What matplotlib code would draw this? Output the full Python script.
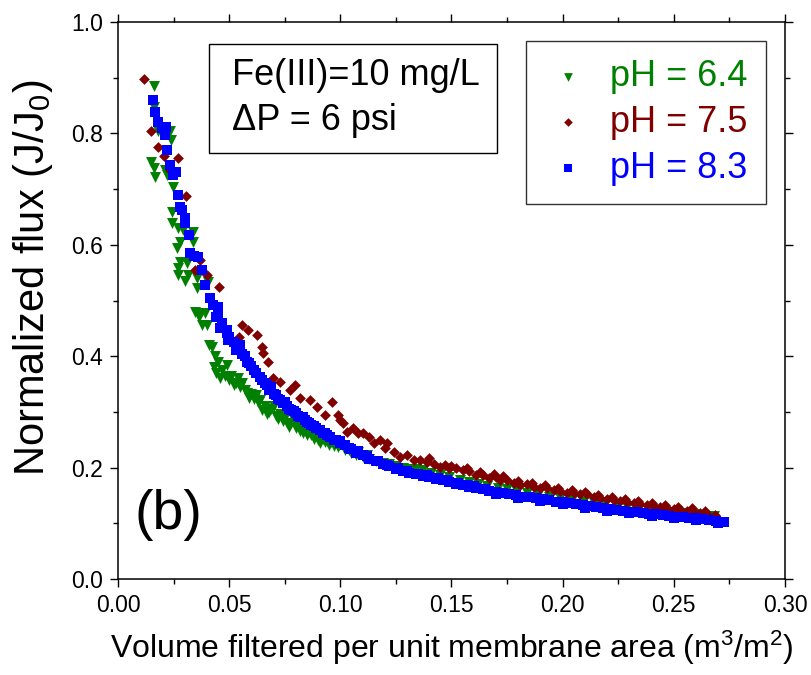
import matplotlib
matplotlib.use("Agg")
import matplotlib.pyplot as plt
from matplotlib.patches import Rectangle
from matplotlib.ticker import MultipleLocator, FormatStrFormatter

plt.rcParams['font.family'] = ['Liberation Sans', 'DejaVu Sans']
plt.rcParams['mathtext.fontset'] = 'custom'
plt.rcParams['mathtext.rm'] = 'Liberation Sans'
plt.rcParams['mathtext.default'] = 'regular'

# pH 6.4 (green triangles)
x_ph64 = [0.0162, 0.016, 0.018, 0.0234, 0.0238, 0.0148, 0.0162, 0.0166, 0.0211, 0.022,
          0.0247, 0.0243, 0.0243, 0.027, 0.0292, 0.0337, 0.0279, 0.0337, 0.0265, 0.0279,
          0.031, 0.027, 0.027, 0.0315, 0.0355, 0.0355, 0.0405, 0.030, 0.0346, 0.037,
          0.039, 0.0365, 0.040, 0.038, 0.0423, 0.041, 0.043, 0.0436, 0.045, 0.047,
          0.049, 0.048, 0.050, 0.051, 0.053, 0.055, 0.054, 0.057, 0.058, 0.060,
          0.061, 0.063, 0.064, 0.065, 0.066, 0.068, 0.069, 0.071, 0.072, 0.074,
          0.075, 0.077, 0.078, 0.080, 0.082, 0.083, 0.085, 0.086, 0.088, 0.090,
          0.091, 0.093, 0.095, 0.097, 0.099, 0.102, 0.105, 0.107, 0.110, 0.113,
          0.116, 0.119, 0.122, 0.125, 0.128, 0.131, 0.134, 0.137, 0.141, 0.145,
          0.149, 0.154, 0.158, 0.162, 0.166, 0.171, 0.175, 0.179, 0.184, 0.189,
          0.194, 0.199, 0.204, 0.209, 0.214, 0.219, 0.224, 0.229, 0.234, 0.239,
          0.244, 0.249, 0.254, 0.259, 0.264, 0.268,
          0.044, 0.046, 0.052, 0.056, 0.059, 0.062, 0.067, 0.070, 0.073, 0.076,
          0.079, 0.081, 0.084, 0.087, 0.089, 0.092, 0.094, 0.096, 0.098, 0.101,
          0.104, 0.108, 0.112]
y_ph64 = [0.886, 0.847, 0.804, 0.804, 0.788, 0.749, 0.738, 0.722, 0.734, 0.725,
          0.704, 0.659, 0.639, 0.630, 0.627, 0.623, 0.605, 0.605, 0.594, 0.569,
          0.567, 0.558, 0.546, 0.546, 0.540, 0.522, 0.533, 0.535, 0.479, 0.478,
          0.478, 0.470, 0.456, 0.456, 0.417, 0.420, 0.381, 0.400, 0.390, 0.375,
          0.384, 0.365, 0.357, 0.365, 0.352, 0.345, 0.360, 0.340, 0.334, 0.332,
          0.324, 0.318, 0.322, 0.303, 0.310, 0.300, 0.305, 0.293, 0.288, 0.284,
          0.290, 0.273, 0.280, 0.271, 0.266, 0.262, 0.258, 0.264, 0.252, 0.250,
          0.244, 0.246, 0.240, 0.238, 0.237, 0.232, 0.226, 0.222, 0.219, 0.216,
          0.212, 0.208, 0.206, 0.203, 0.200, 0.198, 0.197, 0.196, 0.191, 0.186,
          0.183, 0.178, 0.174, 0.170, 0.167, 0.164, 0.161, 0.160, 0.155, 0.151,
          0.148, 0.145, 0.142, 0.139, 0.136, 0.134, 0.131, 0.129, 0.126, 0.124,
          0.122, 0.120, 0.118, 0.116, 0.114, 0.113,
          0.370, 0.360, 0.348, 0.352, 0.325, 0.330, 0.296, 0.310, 0.296, 0.280,
          0.286, 0.276, 0.270, 0.258, 0.262, 0.252, 0.248, 0.246, 0.244, 0.238,
          0.232, 0.228, 0.222]

# pH 7.5 (dark red diamonds)
x_ph75 = [0.0117, 0.0148, 0.018, 0.0207, 0.027, 0.0234, 0.0306, 0.0346, 0.0369, 0.040,
          0.0454, 0.0544, 0.0558, 0.0585, 0.0625, 0.0648, 0.0652, 0.0675, 0.0697, 0.0729,
          0.0774, 0.0796, 0.0819, 0.0864, 0.0895, 0.093, 0.0963, 0.099, 0.0999, 0.101,
          0.103, 0.1057, 0.108, 0.110, 0.113, 0.115, 0.118, 0.120, 0.121, 0.124,
          0.127, 0.130, 0.133, 0.136, 0.139, 0.140, 0.142, 0.145, 0.147, 0.149,
          0.152, 0.155, 0.158, 0.161, 0.164, 0.167, 0.170, 0.172, 0.175, 0.178,
          0.181, 0.184, 0.187, 0.190, 0.193, 0.196, 0.199, 0.202, 0.205, 0.208,
          0.211, 0.214, 0.217, 0.220, 0.223, 0.226, 0.229, 0.232, 0.235, 0.238,
          0.241, 0.244, 0.247, 0.250, 0.253, 0.256, 0.259, 0.262, 0.265, 0.2686,
          0.150, 0.157, 0.163, 0.169, 0.173, 0.180, 0.186, 0.192, 0.198, 0.204,
          0.210, 0.216, 0.222, 0.228, 0.234, 0.240, 0.246, 0.252, 0.258, 0.264]
y_ph75 = [0.898, 0.804, 0.776, 0.759, 0.756, 0.734, 0.688, 0.555, 0.573, 0.546,
          0.524, 0.434, 0.456, 0.447, 0.438, 0.417, 0.405, 0.390, 0.361, 0.354,
          0.339, 0.348, 0.325, 0.321, 0.309, 0.294, 0.318, 0.294, 0.285, 0.280,
          0.264, 0.271, 0.262, 0.262, 0.255, 0.244, 0.250, 0.235, 0.244, 0.228,
          0.219, 0.222, 0.214, 0.214, 0.210, 0.217, 0.206, 0.201, 0.204, 0.199,
          0.199, 0.196, 0.194, 0.187, 0.186, 0.181, 0.183, 0.178, 0.178, 0.173,
          0.169, 0.170, 0.166, 0.163, 0.164, 0.159, 0.158, 0.155, 0.154, 0.153,
          0.152, 0.148, 0.145, 0.143, 0.141, 0.140, 0.138, 0.136, 0.134, 0.132,
          0.131, 0.129, 0.127, 0.126, 0.124, 0.123, 0.121, 0.119, 0.117, 0.115,
          0.203, 0.199, 0.192, 0.188, 0.185, 0.176, 0.172, 0.168, 0.163, 0.160,
          0.157, 0.150, 0.147, 0.144, 0.140, 0.137, 0.133, 0.130, 0.127, 0.122]

# pH 8.3 (blue squares)
x_ph83 = [0.0157, 0.0166, 0.018, 0.020, 0.0215, 0.021, 0.022, 0.0234, 0.0247, 0.026,
          0.027, 0.0279, 0.0288, 0.030, 0.030, 0.032, 0.0324, 0.034, 0.036, 0.038,
          0.039, 0.0414, 0.0427, 0.045, 0.045, 0.047, 0.049, 0.049, 0.0495, 0.052,
          0.055, 0.055, 0.057, 0.059, 0.061, 0.0639, 0.066, 0.068, 0.070, 0.072,
          0.074, 0.076, 0.078, 0.080, 0.082, 0.084, 0.086, 0.088, 0.091, 0.093,
          0.0954, 0.098, 0.0999, 0.102, 0.105, 0.107, 0.110, 0.113, 0.116, 0.119,
          0.122, 0.125, 0.128, 0.131, 0.134, 0.137, 0.140, 0.143, 0.146, 0.149,
          0.152, 0.155, 0.158, 0.161, 0.164, 0.167, 0.170, 0.173, 0.176, 0.179,
          0.182, 0.185, 0.188, 0.191, 0.194, 0.197, 0.200, 0.203, 0.206, 0.209,
          0.212, 0.215, 0.218, 0.221, 0.224, 0.227, 0.230, 0.233, 0.236, 0.239,
          0.242, 0.245, 0.248, 0.251, 0.254, 0.257, 0.260, 0.263, 0.266, 0.269,
          0.2726,
          0.044, 0.046, 0.050, 0.053, 0.056, 0.058, 0.060, 0.062, 0.065, 0.067,
          0.069, 0.071, 0.073, 0.075, 0.077, 0.079, 0.081, 0.083, 0.085, 0.087,
          0.089, 0.092, 0.094, 0.097, 0.100, 0.104, 0.108, 0.112, 0.117, 0.121,
          0.126, 0.130, 0.135, 0.139, 0.144, 0.148, 0.153, 0.157, 0.160, 0.165,
          0.170, 0.180, 0.190, 0.200, 0.210, 0.220, 0.230, 0.240, 0.250, 0.260,
          0.270]
y_ph83 = [0.860, 0.838, 0.820, 0.810, 0.812, 0.797, 0.770, 0.743, 0.725, 0.730,
          0.689, 0.668, 0.662, 0.648, 0.639, 0.618, 0.585, 0.580, 0.578, 0.555,
          0.528, 0.504, 0.492, 0.488, 0.477, 0.460, 0.447, 0.442, 0.429, 0.425,
          0.420, 0.411, 0.400, 0.388, 0.375, 0.363, 0.352, 0.339, 0.333, 0.324,
          0.316, 0.310, 0.303, 0.298, 0.291, 0.285, 0.280, 0.274, 0.267, 0.262,
          0.255, 0.249, 0.244, 0.240, 0.233, 0.226, 0.222, 0.216, 0.211, 0.206,
          0.202, 0.198, 0.194, 0.191, 0.188, 0.185, 0.183, 0.180, 0.177, 0.174,
          0.171, 0.168, 0.166, 0.163, 0.161, 0.158, 0.156, 0.154, 0.152, 0.150,
          0.148, 0.147, 0.145, 0.143, 0.141, 0.139, 0.138, 0.136, 0.134, 0.132,
          0.131, 0.129, 0.127, 0.126, 0.124, 0.123, 0.121, 0.120, 0.118, 0.117,
          0.116, 0.115, 0.113, 0.112, 0.111, 0.110, 0.109, 0.107, 0.106, 0.104,
          0.102,
          0.470, 0.450, 0.435, 0.412, 0.404, 0.390, 0.382, 0.370, 0.358, 0.348,
          0.344, 0.330, 0.322, 0.318, 0.306, 0.302, 0.292, 0.290, 0.282, 0.276,
          0.272, 0.262, 0.258, 0.250, 0.247, 0.236, 0.229, 0.221, 0.212, 0.205,
          0.199, 0.194, 0.188, 0.186, 0.181, 0.177, 0.173, 0.169, 0.167, 0.162,
          0.152, 0.146, 0.140, 0.134, 0.128, 0.123, 0.118, 0.114, 0.110, 0.106,
          0.101]

labels = ['pH = 6.4', 'pH = 7.5', 'pH = 8.3']
colors = ['#008000', '#800000', '#0000ff']

fig = plt.figure(figsize=(8.12, 6.75), dpi=100)
ax = fig.add_axes([0.1453, 0.1422, 0.8214, 0.8252])

ax.scatter(x_ph64, y_ph64, marker='v', s=62, color=colors[0], linewidths=0, label=labels[0])
ax.scatter(x_ph75, y_ph75, marker='D', s=30, color=colors[1], linewidths=0, label=labels[1])
ax.scatter(x_ph83, y_ph83, marker='s', s=55, color=colors[2], linewidths=0, label=labels[2])

ax.set_xlim(0, 0.30)
ax.set_ylim(0, 1.0)
ax.xaxis.set_major_locator(MultipleLocator(0.05))
ax.xaxis.set_minor_locator(MultipleLocator(0.025))
ax.yaxis.set_major_locator(MultipleLocator(0.2))
ax.yaxis.set_minor_locator(MultipleLocator(0.1))
ax.xaxis.set_major_formatter(FormatStrFormatter('%.2f'))
ax.yaxis.set_major_formatter(FormatStrFormatter('%.1f'))
ax.tick_params(which='both', direction='out', top=True, right=True, width=1.0)
ax.tick_params(which='major', length=6, labelsize=16.5, pad=5)
ax.tick_params(which='minor', length=3.5)
for sp in ax.spines.values():
    sp.set_linewidth(1.1)

ax.set_xlabel('Volume filtered per unit membrane area (m$^3$/m$^2$)', fontsize=23, labelpad=8)
ax.set_ylabel('Normalized flux (J/J$_0$)', fontsize=30)
ax.yaxis.set_label_coords(-0.095, 0.54)

leg = ax.legend(loc='upper left', bbox_to_anchor=(0.612, 0.966), borderaxespad=0,
                fontsize=26, frameon=True, fancybox=False, markerscale=0.8,
                handletextpad=0.5, labelspacing=0.3, borderpad=0.5,
                handlelength=1.33, scatterpoints=1)
leg.get_frame().set_edgecolor('black')
leg.get_frame().set_linewidth(1.0)
for txt, c in zip(leg.get_texts(), colors):
    txt.set_color(c)

ax.add_patch(Rectangle((0.136, 0.765), 0.432, 0.196, transform=ax.transAxes,
                       fill=False, edgecolor='black', linewidth=1.0))
ax.text(0.171, 0.887, 'Fe(III)=10 mg/L', transform=ax.transAxes, fontsize=26, va='baseline')
ax.text(0.171, 0.806, '\u0394P = 6 psi', transform=ax.transAxes, fontsize=26, va='baseline')
ax.text(0.075, 0.115, '(b)', transform=ax.transAxes, fontsize=40, ha='center', va='center')

fig.savefig('out.png', dpi=100)
